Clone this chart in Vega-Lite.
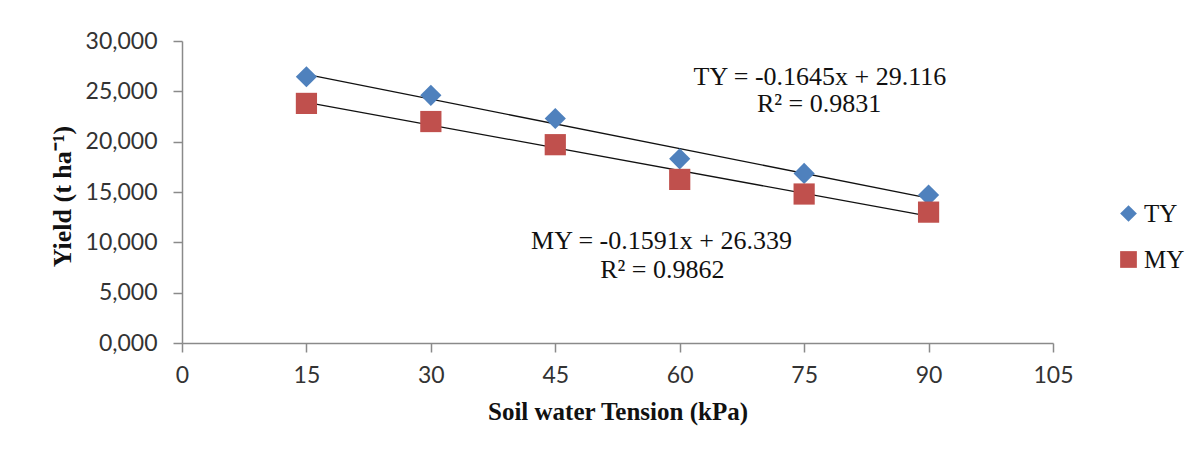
{
  "$schema": "https://vega.github.io/schema/vega-lite/v6.json",
  "width": 871,
  "height": 302,
  "autosize": {"type": "none"},
  "padding": {"left": 182, "top": 41, "right": 141, "bottom": 114},
  "background": "white",
  "config": {"view": {"stroke": null}},
  "datasets": {
    "pts": [
      {"kPa": 15, "yield": 26.45, "series": "TY"},
      {"kPa": 30, "yield": 24.6, "series": "TY"},
      {"kPa": 45, "yield": 22.3, "series": "TY"},
      {"kPa": 60, "yield": 18.3, "series": "TY"},
      {"kPa": 75, "yield": 16.85, "series": "TY"},
      {"kPa": 90, "yield": 14.7, "series": "TY"},
      {"kPa": 15, "yield": 23.8, "series": "MY"},
      {"kPa": 30, "yield": 22.0, "series": "MY"},
      {"kPa": 45, "yield": 19.7, "series": "MY"},
      {"kPa": 60, "yield": 16.25, "series": "MY"},
      {"kPa": 75, "yield": 14.8, "series": "MY"},
      {"kPa": 90, "yield": 13.0, "series": "MY"}
    ],
    "notes": [
      {"kPa": 76.9, "yield": 26.45, "label": "TY = -0.1645x + 29.116"},
      {"kPa": 76.8, "yield": 23.75, "label": "R² = 0.9831"},
      {"kPa": 57.8, "yield": 10.1, "label": "MY = -0.1591x + 26.339"},
      {"kPa": 57.9, "yield": 7.3, "label": "R² = 0.9862"}
    ]
  },
  "layer": [
    {
      "data": {"name": "pts"},
      "transform": [{"regression": "yield", "on": "kPa", "groupby": ["series"]}],
      "mark": {"type": "line", "color": "#111111", "strokeWidth": 1.3},
      "encoding": {
        "x": {"field": "kPa", "type": "quantitative"},
        "y": {"field": "yield", "type": "quantitative"},
        "detail": {"field": "series"}
      }
    },
    {
      "data": {"name": "pts"},
      "mark": {"type": "point", "filled": true, "opacity": 1, "size": 450},
      "encoding": {
        "x": {
          "field": "kPa",
          "type": "quantitative",
          "scale": {"domain": [0, 105], "nice": false, "zero": true},
          "axis": {
            "values": [0, 15, 30, 45, 60, 75, 90, 105],
            "title": "Soil water Tension (kPa)",
            "grid": false,
            "labelFlush": false,
            "domainColor": "#8a8a8a",
            "domainWidth": 1.5,
            "tickColor": "#8a8a8a",
            "tickWidth": 1.5,
            "tickSize": 9,
            "labelFont": "Lato",
            "labelFontSize": 23,
            "labelColor": "#333333",
            "labelPadding": 12,
            "titleFont": "Liberation Serif",
            "titleFontWeight": "bold",
            "titleFontSize": 25,
            "titleColor": "#111111",
            "titlePadding": 12
          }
        },
        "y": {
          "field": "yield",
          "type": "quantitative",
          "scale": {"domain": [0, 30], "nice": false},
          "axis": {
            "values": [0, 5, 10, 15, 20, 25, 30],
            "labelExpr": "replace(format(datum.value, ',.3f'), '.', ',')",
            "title": "Yield  (t ha⁻¹)",
            "grid": false,
            "labelFlush": false,
            "domainColor": "#8a8a8a",
            "domainWidth": 1.5,
            "tickColor": "#8a8a8a",
            "tickWidth": 1.5,
            "tickSize": 9,
            "labelFont": "Lato",
            "labelFontSize": 23,
            "labelColor": "#333333",
            "labelPadding": 16,
            "titleFont": "Liberation Serif",
            "titleFontWeight": "bold",
            "titleFontSize": 26,
            "titleColor": "#111111",
            "titleAngle": -90,
            "titleBaseline": "middle",
            "titleAlign": "center",
            "titleX": -120,
            "titleY": 155
          }
        },
        "color": {
          "field": "series",
          "type": "nominal",
          "scale": {"domain": ["TY", "MY"], "range": ["#4F81BD", "#C0504D"]},
          "legend": {
            "title": null,
            "orient": "none",
            "legendX": 934,
            "legendY": 160,
            "symbolSize": 280,
            "labelFont": "Liberation Serif",
            "labelFontSize": 25,
            "labelColor": "#111111",
            "rowPadding": 20,
            "labelOffset": 3,
            "symbolOpacity": 1
          }
        },
        "shape": {
          "field": "series",
          "type": "nominal",
          "scale": {"domain": ["TY", "MY"], "range": ["diamond", "square"]}
        }
      }
    },
    {
      "data": {"name": "notes"},
      "mark": {"type": "text", "font": "Liberation Serif", "fontSize": 26, "color": "#111111", "align": "center", "baseline": "middle"},
      "encoding": {
        "x": {"field": "kPa", "type": "quantitative"},
        "y": {"field": "yield", "type": "quantitative"},
        "text": {"field": "label"}
      }
    }
  ]
}
